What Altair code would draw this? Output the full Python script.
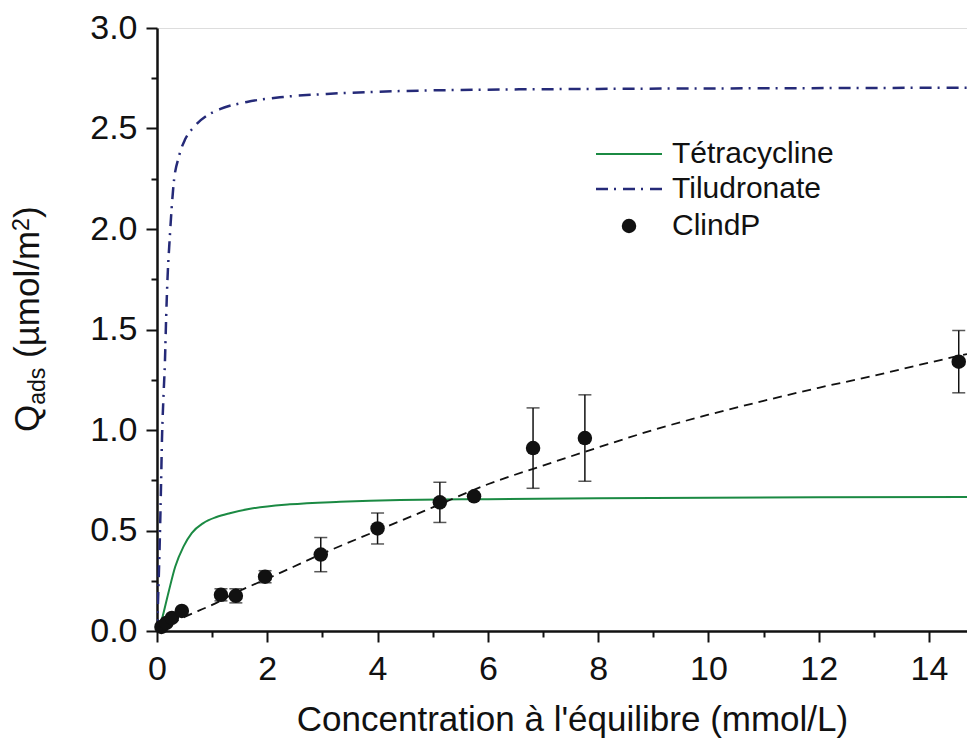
import altair as alt
import pandas as pd

# ---------------- data ----------------
clind_x = [0.08, 0.17, 0.27, 0.45, 1.16, 1.43, 1.96, 2.97, 4.00, 5.13, 5.75, 6.82, 7.76, 14.54]
clind_y = [0.02, 0.04, 0.065, 0.10, 0.18, 0.175, 0.27, 0.38, 0.51, 0.64, 0.67, 0.91, 0.96, 1.34]
clind_err = [0, 0, 0, 0, 0.03, 0.035, 0.03, 0.085, 0.077, 0.10, 0, 0.20, 0.215, 0.155]

fit_x = [0, 0.5, 1, 1.5, 2, 3, 4, 5, 6, 7, 8, 9, 10, 11, 12, 13, 14, 14.69]
fit_y = [0, 0.07, 0.13, 0.2, 0.26, 0.385, 0.5, 0.615, 0.73, 0.823, 0.913, 1.0, 1.076,
         1.145, 1.21, 1.27, 1.335, 1.378]

tetra_x = [0.02, 0.085, 0.205, 0.33, 0.48, 0.63, 0.84, 1.08, 1.32, 1.69, 2.41, 3.32,
           4.41, 6, 8, 10, 12, 14.69]
tetra_y = [0.0, 0.055, 0.188, 0.32, 0.42, 0.487, 0.537, 0.567, 0.586, 0.608, 0.63,
           0.643, 0.652, 0.656, 0.660, 0.663, 0.665, 0.667]

tilu_x = [0, 0.03, 0.055, 0.075, 0.09, 0.115, 0.145, 0.165, 0.19, 0.23, 0.265, 0.3,
          0.4, 0.51, 0.66, 0.9, 1.14, 1.63, 2.29, 3.08, 3.92, 5.07, 8, 11, 14.69]
tilu_y = [0, 0.25, 0.5, 0.75, 0.95, 1.15, 1.35, 1.55, 1.75, 1.95, 2.1, 2.22,
          2.363, 2.446, 2.505, 2.563, 2.596, 2.632, 2.657, 2.672, 2.682, 2.69, 2.697,
          2.70, 2.703]

legend_labels = ["Tétracycline", "Tiludronate", "ClindP"]
x_title = "Concentration à l'équilibre (mmol/L)"
y_title_parts = ["Q", "ads", "(µmol/m", "2", ")"]

x_ticks = list(range(0, 15))
y_ticks = [i * 0.25 for i in range(13)]

# ---------------- styles ----------------
FONT = "Liberation Sans"
GREEN = "#1b8a43"
NAVY = "#252a78"
BLACK = "#111111"

X_MAX = 14.69
W, H = 810, 603

x_scale = alt.Scale(domain=[0, X_MAX], nice=False, zero=False)
y_scale = alt.Scale(domain=[0, 3], nice=False, zero=False)

x_axis = alt.Axis(
    values=x_ticks,
    labelExpr="datum.value % 2 === 0 ? datum.label : ''",
    format="d",
    title=x_title,
    titleFont=FONT, titleFontSize=35, titleFontWeight="normal", titleColor=BLACK,
    titleY=99, titleX=415, titleBaseline="alphabetic", titleAlign="center",
    labelFont=FONT, labelFontSize=34, labelColor=BLACK, labelPadding=10,
    labelFlush=False, labelOverlap=False,
    domainColor=BLACK, domainWidth=2.5,
    tickColor=BLACK, tickWidth=2,
    tickSize={"condition": {"test": "datum.value % 2 === 0", "value": 11}, "value": 6},
    grid=False,
)
y_axis = alt.Axis(
    values=y_ticks,
    labelExpr="abs(datum.value * 2 - round(datum.value * 2)) < 0.001 ? format(datum.value, '.1f') : ''",
    title=None,
    labelFont=FONT, labelFontSize=34, labelColor=BLACK, labelPadding=9,
    labelFlush=False, labelOverlap=False,
    domainColor=BLACK, domainWidth=2.5,
    tickColor=BLACK, tickWidth=2,
    tickSize={"condition": {"test": "abs(datum.value * 2 - round(datum.value * 2)) < 0.001",
                            "value": 11}, "value": 6},
    grid=False,
)


def X(field="x"):
    return alt.X(f"{field}:Q", scale=x_scale, axis=x_axis)


def Y(field="y"):
    return alt.Y(f"{field}:Q", scale=y_scale, axis=y_axis)


tetra_df = pd.DataFrame({"x": tetra_x, "y": tetra_y})
tilu_df = pd.DataFrame({"x": tilu_x, "y": tilu_y})
fit_df = pd.DataFrame({"x": fit_x, "y": fit_y})
clind_df = pd.DataFrame({"x": clind_x, "y": clind_y, "e": clind_err})
clind_df["lo"] = clind_df["y"] - clind_df["e"]
clind_df["hi"] = clind_df["y"] + clind_df["e"]
err_df = clind_df[clind_df["e"] > 0]

tetra = alt.Chart(tetra_df).mark_line(color=GREEN, strokeWidth=2, interpolate="monotone",
                                      clip=True).encode(x=X(), y=Y())
tilu = alt.Chart(tilu_df).mark_line(color=NAVY, strokeWidth=2.5, strokeDash=[12, 6, 2, 7],
                                    interpolate="monotone", clip=True).encode(x=X(), y=Y())
fit = alt.Chart(fit_df).mark_line(color=BLACK, strokeWidth=1.8, strokeDash=[9, 6],
                                  interpolate="monotone", clip=True).encode(x=X(), y=Y())
err_rule = alt.Chart(err_df).mark_rule(color=BLACK, strokeWidth=1.5).encode(
    x=X(), y=Y("lo"), y2="hi:Q")
cap_lo = alt.Chart(err_df).mark_tick(color=BLACK, orient="horizontal", size=13,
                                     thickness=1.5).encode(x=X(), y=Y("lo"))
cap_hi = alt.Chart(err_df).mark_tick(color=BLACK, orient="horizontal", size=13,
                                     thickness=1.5).encode(x=X(), y=Y("hi"))
points = alt.Chart(clind_df).mark_circle(color=BLACK, size=210, opacity=1).encode(
    x=X(), y=Y())

# ---------------- manual legend ----------------
LX0, LX1, LTX = 439, 505, 515
LY = [126, 161, 198]
one = pd.DataFrame({"k": [0]})
leg_green = alt.Chart(one).mark_rule(color=GREEN, strokeWidth=2).encode(
    x=alt.value(LX0), x2=alt.value(LX1), y=alt.value(LY[0]))
leg_navy = alt.Chart(one).mark_rule(color=NAVY, strokeWidth=2.5, strokeDash=[12, 6, 2, 7]).encode(
    x=alt.value(LX0), x2=alt.value(LX1), y=alt.value(LY[1]))
leg_dot = alt.Chart(one).mark_circle(color=BLACK, size=210, opacity=1).encode(
    x=alt.value((LX0 + LX1) / 2), y=alt.value(LY[2]))
leg_texts = [
    alt.Chart(pd.DataFrame({"t": [lab]})).mark_text(
        font=FONT, fontSize=30, color=BLACK, align="left", baseline="middle").encode(
        text="t:N", x=alt.value(LTX), y=alt.value(ly))
    for lab, ly in zip(legend_labels, LY)
]

# ---------------- y title with subscript / superscript ----------------
F_MAIN, F_SUB = 35, 23
em = {"Q": 0.778, "ads": 1.612, "(µmol/m": 3.631, "2": 0.556, ")": 0.333}
sizes = [F_MAIN, F_SUB, F_MAIN, F_SUB, F_MAIN]
shifts = [0, 6, 0, -10, 0]
gaps = [0, 0.278 * F_MAIN, 0, 0, 0]   # word space after the subscript
base_x = -118
cur_y = 404
ytitle_layers = []
for part, fs, sh, gap in zip(y_title_parts, sizes, shifts, gaps):
    ytitle_layers.append(
        alt.Chart(pd.DataFrame({"t": [part]})).mark_text(
            font=FONT, fontSize=fs, color=BLACK, align="left", baseline="alphabetic",
            angle=270).encode(text="t:N", x=alt.value(base_x + sh), y=alt.value(cur_y))
    )
    cur_y -= em[part] * fs + gap

chart = alt.layer(
    tetra, tilu, fit, err_rule, cap_lo, cap_hi, points,
    leg_green, leg_navy, leg_dot, *leg_texts, *ytitle_layers
).properties(
    width=W, height=H,
    autosize=alt.AutoSizeParams(type="none"),
    padding={"left": 149, "top": 20, "right": 0, "bottom": 108},
).configure_view(stroke=None).configure(background="white")

chart.save("out.html", embed_options={"renderer": "svg", "actions": False})
